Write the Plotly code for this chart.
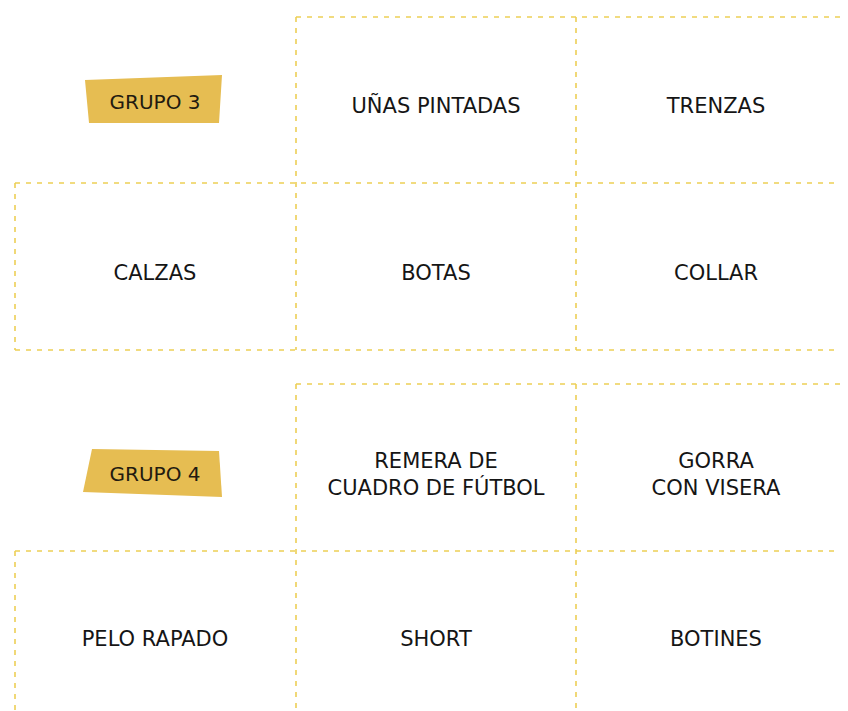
import plotly.graph_objects as go

# ---- data ----
card_labels = ["UÑAS PINTADAS", "TRENZAS", "CALZAS", "BOTAS", "COLLAR",
               "REMERA DE<br>CUADRO DE FÚTBOL", "GORRA<br>CON VISERA",
               "PELO RAPADO", "SHORT", "BOTINES"]
card_x = [436, 716, 155, 436, 716, 436, 716, 155, 436, 716]
card_y = [108, 108, 275, 275, 275, 476, 476, 641, 641, 641]

group_labels = ["GRUPO 3", "GRUPO 4"]
group_x = [155, 155]
group_y = [104, 476]
tag3_x = [85, 222, 219, 89, 85]
tag3_y = [80, 75, 123, 123, 80]
tag4_x = [92, 219, 222, 83, 92]
tag4_y = [449, 451, 497, 492, 449]

h_y = [17, 183, 350, 384, 551]
h_x0 = [296, 15, 15, 296, 15]
h_x1 = [852, 852, 852, 852, 852]
v_x = [296, 576, 15, 296, 576, 15]
v_y0 = [17, 17, 183, 384, 384, 551]
v_y1 = [350, 350, 350, 715, 715, 715]

LINE = "#EDCF55"
TAG = "#E6BD52"
FONT = "DejaVu Sans"

fig = go.Figure()

lx, ly = [], []
for y, a, b in zip(h_y, h_x0, h_x1):
    lx += [a, b, None]
    ly += [y, y, None]
for x, a, b in zip(v_x, v_y0, v_y1):
    lx += [x, x, None]
    ly += [a, b, None]
fig.add_trace(go.Scatter(x=lx, y=ly, mode="lines",
                         line=dict(color=LINE, width=1.6, dash="5px,6px"),
                         hoverinfo="skip", showlegend=False))

for tx, ty in [(tag3_x, tag3_y), (tag4_x, tag4_y)]:
    fig.add_trace(go.Scatter(x=tx, y=ty, mode="lines", fill="toself",
                             fillcolor=TAG, line=dict(width=0, color=TAG),
                             hoverinfo="skip", showlegend=False))

fig.add_trace(go.Scatter(x=group_x, y=group_y, mode="text", text=group_labels,
                         textfont=dict(family=FONT, size=20, color="#221a10"),
                         textposition="middle center", hoverinfo="skip", showlegend=False))

fig.add_trace(go.Scatter(x=card_x, y=card_y, mode="text", text=card_labels,
                         textfont=dict(family=FONT, size=21, color="#151515"),
                         textposition="middle center", hoverinfo="skip", showlegend=False))

# page body has an 8px margin: figure covers screen 8..848 x 8..711
fig.update_layout(
    width=840, height=703,
    margin=dict(l=0, r=0, t=0, b=0),
    paper_bgcolor="white", plot_bgcolor="white",
    xaxis=dict(range=[8, 848], visible=False, fixedrange=True),
    yaxis=dict(range=[711, 8], visible=False, fixedrange=True),
)

fig.write_html("out.html")
